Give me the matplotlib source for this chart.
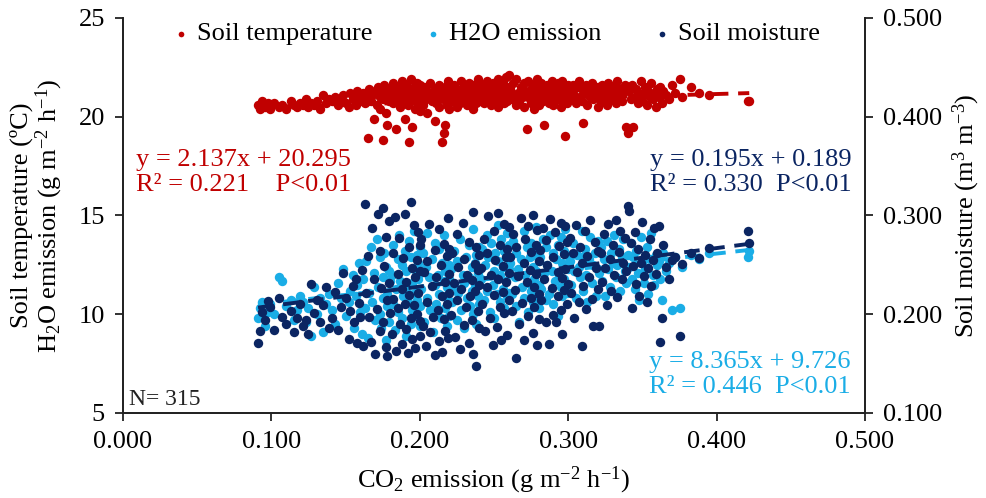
"""CO2 emission vs soil temperature, H2O emission and soil moisture."""

import numpy as np
import matplotlib
matplotlib.use('Agg')
import matplotlib.pyplot as plt

plt.rcParams['font.family'] = ['Liberation Serif', 'DejaVu Serif']
plt.rcParams['mathtext.fontset'] = 'custom'
plt.rcParams['mathtext.rm'] = 'Liberation Serif'
plt.rcParams['mathtext.it'] = 'Liberation Serif:italic'

# CO2 emission (g m-2 h-1), shared by all three series
co2 = [
    0.091, 0.092, 0.094, 0.096, 0.098, 0.099,
    0.102, 0.105, 0.107, 0.110, 0.113, 0.115, 0.117, 0.119,
    0.121, 0.123, 0.125, 0.127, 0.129, 0.131, 0.133, 0.135, 0.137, 0.139,
    0.141, 0.143, 0.145, 0.147, 0.148, 0.150, 0.152, 0.153, 0.155, 0.156, 0.157, 0.158, 0.159, 0.160,
    0.161, 0.162, 0.163, 0.164, 0.165, 0.166, 0.167, 0.168, 0.169, 0.170, 0.171, 0.172, 0.173, 0.173,
    0.174, 0.175, 0.175, 0.176, 0.177, 0.177, 0.178, 0.178, 0.179, 0.179, 0.180,
    0.181, 0.182, 0.182, 0.183, 0.184, 0.185, 0.185, 0.186, 0.187, 0.188, 0.188, 0.189, 0.190, 0.190,
    0.191, 0.191, 0.192, 0.193, 0.193, 0.194, 0.194, 0.195, 0.195, 0.196, 0.196, 0.197, 0.197, 0.198,
    0.198, 0.199, 0.199, 0.200, 0.200, 0.200, 0.200,
    0.201, 0.202, 0.203, 0.204, 0.205, 0.205, 0.206, 0.207, 0.208, 0.209, 0.210, 0.210, 0.211, 0.212,
    0.213, 0.213, 0.214, 0.215, 0.215, 0.216, 0.216, 0.217, 0.217, 0.218, 0.218, 0.219, 0.219, 0.220,
    0.220, 0.220,
    0.221, 0.222, 0.223, 0.224, 0.225, 0.225, 0.226, 0.227, 0.228, 0.229, 0.230, 0.230, 0.231, 0.232,
    0.233, 0.233, 0.234, 0.235, 0.235, 0.236, 0.236, 0.237, 0.237, 0.238, 0.238, 0.239, 0.239, 0.240,
    0.240, 0.240,
    0.241, 0.242, 0.243, 0.244, 0.245, 0.245, 0.246, 0.247, 0.248, 0.249, 0.250, 0.250, 0.251, 0.252,
    0.253, 0.253, 0.254, 0.254, 0.255, 0.256, 0.256, 0.257, 0.257, 0.258, 0.258, 0.259, 0.259, 0.260,
    0.260, 0.260,
    0.261, 0.262, 0.263, 0.264, 0.265, 0.265, 0.266, 0.267, 0.268, 0.269, 0.270, 0.270, 0.271, 0.272,
    0.273, 0.273, 0.274, 0.275, 0.275, 0.276, 0.276, 0.277, 0.277, 0.278, 0.278, 0.279, 0.279, 0.280,
    0.280, 0.280,
    0.281, 0.282, 0.283, 0.284, 0.285, 0.285, 0.286, 0.287, 0.288, 0.289, 0.290, 0.290, 0.291, 0.292,
    0.293, 0.293, 0.294, 0.295, 0.295, 0.296, 0.296, 0.297, 0.297, 0.298, 0.298, 0.299, 0.299, 0.300,
    0.301, 0.302, 0.303, 0.304, 0.305, 0.306, 0.307, 0.308, 0.309, 0.309, 0.310, 0.311, 0.312, 0.313,
    0.314, 0.315, 0.316, 0.317, 0.318, 0.319, 0.320, 0.320,
    0.321, 0.322, 0.323, 0.324, 0.325, 0.326, 0.327, 0.328, 0.329, 0.330, 0.331, 0.332, 0.333, 0.334,
    0.335, 0.336, 0.337, 0.338, 0.339, 0.340,
    0.341, 0.342, 0.343, 0.344, 0.345, 0.346, 0.347, 0.348, 0.349, 0.350, 0.351, 0.352, 0.353, 0.354,
    0.355, 0.356, 0.357, 0.358, 0.359, 0.360,
    0.361, 0.362, 0.363, 0.364, 0.366, 0.368, 0.370, 0.372, 0.375, 0.377,
    0.383, 0.388, 0.395, 0.421, 0.422,
]

# soil temperature (ºC)
soil_temp = [
    20.6, 20.4, 20.8, 20.5, 20.7, 20.4,
    20.7, 20.5, 20.6, 20.4, 20.8, 20.6, 20.5, 20.7,
    20.6, 20.9, 20.5, 20.7, 20.6, 20.8, 20.4, 21.1, 20.7, 20.9,
    20.8, 21.0, 20.6, 20.9, 21.1, 20.7, 20.5, 21.2, 20.9, 21.0, 20.6, 21.3, 20.8, 21.0,
    20.9, 21.2, 20.7, 21.0, 18.9, 21.4, 20.8, 21.1, 19.9, 21.3, 20.6, 21.5, 21.0, 20.4,
    21.2, 18.8, 20.9, 21.6, 21.1, 20.2, 21.3, 19.6, 20.8, 21.4, 21.0,
    21.3, 20.7, 21.7, 21.0, 19.4, 21.5, 20.9, 21.2, 20.5, 21.8, 21.1, 20.8, 21.4, 19.9,
    21.0, 21.6, 20.6, 21.3, 18.7, 21.9, 20.8, 21.2, 19.5, 21.5, 20.9, 21.1, 20.4, 21.7,
    21.0, 20.7, 21.4, 21.2, 20.3, 21.6, 20.9,
    21.1, 20.6, 21.5, 20.9, 21.3, 20.2, 21.0, 21.7, 20.8, 21.2, 19.8, 21.4, 20.7, 21.1,
    21.6, 20.5, 21.0, 18.7, 21.3, 19.2, 20.9, 21.5, 19.6, 21.2, 20.6, 21.8, 21.0, 20.8,
    21.4, 20.4,
    21.2, 20.8, 21.6, 21.0, 20.5, 21.4, 21.1, 20.7, 21.8, 21.3, 20.9, 21.5, 21.0, 20.6,
    21.7, 21.2, 20.8, 21.4, 21.0, 20.4, 21.6, 21.1, 20.9, 21.3, 20.7, 21.9, 21.0, 20.8,
    21.5, 21.2,
    21.0, 21.6, 20.7, 21.3, 21.8, 20.9, 21.4, 21.1, 20.6, 21.7, 21.2, 20.8, 21.5, 21.0,
    21.9, 20.5, 21.3, 21.6, 20.9, 21.1, 21.8, 20.7, 21.4, 22.0, 21.2, 20.8, 21.5, 22.1,
    21.0, 21.3,
    21.4, 20.9, 21.7, 21.1, 20.6, 21.9, 21.2, 20.8, 21.5, 21.0, 21.7, 20.5, 21.3, 19.4,
    21.1, 21.8, 20.9, 21.4, 20.7, 21.6, 21.2, 20.4, 21.0, 21.5, 20.8, 21.3, 21.9, 21.1,
    20.6, 21.4,
    21.2, 21.7, 20.8, 19.6, 21.4, 21.0, 21.6, 20.7, 21.3, 21.8, 21.0, 20.6, 21.5, 21.2,
    20.9, 21.7, 21.1, 20.5, 21.4, 21.0, 21.8, 20.8, 21.3, 19.0, 21.5, 21.1, 20.7, 21.6,
    21.3, 20.9, 21.6, 21.1, 20.7, 21.5, 21.8, 21.0, 20.8, 21.4, 19.7, 21.2, 21.6, 20.6,
    21.3, 21.0, 21.7, 20.9, 21.4, 21.1, 20.5, 21.5,
    21.2, 20.8, 21.6, 21.0, 21.4, 20.6, 21.7, 21.1, 20.9, 21.5, 21.3, 20.7, 21.8, 21.0,
    21.4, 20.8, 21.2, 21.6, 19.5, 19.2,
    21.3, 20.9, 21.6, 19.5, 21.0, 21.4, 20.7, 21.2, 21.8, 20.8, 21.1, 21.5, 20.6, 21.3,
    21.0, 21.7, 20.9, 21.2, 20.5, 21.4,
    21.0, 21.5, 20.7, 21.3, 21.1, 20.9, 21.6, 21.2, 21.9, 21.0,
    21.5, 21.2, 21.1, 20.8, 20.8,
]

# H2O emission (g m-2 h-1)
h2o = [
    9.8, 10.3, 10.6, 9.4, 10.1, 10.5,
    10.0, 11.9, 11.7, 10.4, 10.7, 9.7, 10.2, 10.9,
    10.6, 9.6, 10.3, 8.9, 11.4, 10.0, 10.8, 9.1, 10.5, 11.0,
    10.2, 9.5, 11.6, 10.8, 12.3, 9.9, 10.6, 11.2, 12.0, 9.3, 10.9, 11.5, 12.6, 10.1,
    9.0, 11.8, 10.3, 12.7, 8.8, 11.1, 13.4, 10.6, 12.1, 9.7, 13.8, 11.4, 10.0, 12.9,
    9.3, 11.9, 10.8, 13.1, 12.4, 8.7, 11.0, 10.4, 12.2, 9.6, 11.7,
    12.0, 10.5, 13.5, 9.2, 11.3, 12.8, 10.1, 14.0, 11.7, 9.8, 12.5, 10.9, 13.2, 11.4,
    8.9, 12.2, 10.6, 13.7, 11.0, 9.5, 12.9, 11.6, 10.2, 14.2, 12.3, 9.9, 11.1, 13.0,
    10.7, 12.6, 11.8, 9.4, 13.4, 10.4, 12.1,
    11.3, 13.1, 9.6, 12.4, 10.8, 14.1, 11.9, 10.2, 12.8, 9.1, 11.5, 13.6, 10.5, 12.0,
    11.0, 13.3, 9.8, 12.6, 10.9, 11.7, 14.0, 10.3, 12.2, 9.4, 11.4, 13.0, 10.7, 12.5,
    11.8, 9.9,
    12.3, 10.6, 13.2, 11.4, 9.7, 12.7, 11.1, 13.8, 10.2, 12.0, 11.6, 9.3, 12.9, 10.8,
    13.5, 11.9, 10.4, 12.4, 11.2, 14.3, 10.0, 12.6, 11.5, 9.5, 13.0, 12.1, 10.9, 11.7,
    13.4, 10.5,
    11.8, 13.3, 10.7, 12.5, 14.0, 11.2, 12.9, 10.1, 13.6, 11.5, 12.2, 9.8, 13.1, 11.0,
    12.7, 14.5, 10.6, 12.0, 13.8, 11.3, 12.4, 10.3, 13.2, 11.7, 12.9, 10.9, 14.1, 12.3,
    11.1, 13.5,
    12.6, 11.0, 13.7, 11.9, 10.4, 13.1, 12.3, 9.6, 12.8, 11.4, 14.2, 10.8, 12.0, 13.4,
    11.6, 10.1, 12.9, 11.2, 13.6, 12.4, 10.6, 13.0, 11.8, 14.4, 12.2, 10.9, 13.3, 11.5,
    12.7, 10.3,
    12.9, 11.3, 13.8, 12.1, 10.7, 13.4, 12.5, 11.0, 14.0, 12.2, 10.5, 13.1, 11.7, 12.8,
    9.9, 13.5, 12.0, 11.4, 13.9, 12.6, 10.9, 13.2, 11.8, 12.4, 14.3, 11.1, 13.0, 12.3,
    12.7, 11.5, 13.6, 12.2, 10.8, 13.0, 12.4, 11.9, 14.2, 12.9, 11.2, 13.3, 12.0, 10.6,
    12.8, 13.9, 11.6, 12.5, 13.1, 10.9, 12.3, 13.7,
    12.1, 13.4, 11.7, 12.8, 10.9, 13.7, 12.3, 11.4, 13.1, 12.6, 14.0, 11.9, 12.5, 13.3,
    11.2, 12.9, 13.8, 12.2, 11.6, 13.0,
    12.4, 13.6, 11.8, 12.9, 11.3, 13.2, 12.1, 10.7, 13.9, 12.6, 11.6, 12.3, 13.4, 11.0,
    12.8, 14.1, 12.0, 11.5, 13.0, 12.5,
    12.7, 11.8, 10.7, 13.1, 12.2, 12.6, 10.2, 12.9, 10.3, 12.4,
    13.0, 12.8, 13.1, 12.9, 13.2,
]

# soil moisture (m3 m-3)
soil_moist = [
    0.171, 0.183, 0.202, 0.194, 0.213, 0.207,
    0.184, 0.216, 0.197, 0.190, 0.203, 0.182, 0.196, 0.210,
    0.188, 0.194, 0.180, 0.231, 0.201, 0.214, 0.192, 0.209, 0.228, 0.186,
    0.196, 0.223, 0.184, 0.207, 0.242, 0.216, 0.175, 0.203, 0.229, 0.192, 0.236, 0.171, 0.211, 0.197,
    0.245, 0.168, 0.312, 0.221, 0.259, 0.197, 0.172, 0.287, 0.236, 0.160, 0.205, 0.301, 0.183, 0.264,
    0.227, 0.308, 0.192, 0.249, 0.167, 0.278, 0.214, 0.158, 0.232, 0.294, 0.201,
    0.180, 0.262, 0.215, 0.298, 0.163, 0.241, 0.206, 0.277, 0.190, 0.226, 0.170, 0.257, 0.210, 0.302,
    0.185, 0.233, 0.161, 0.268, 0.219, 0.314, 0.196, 0.247, 0.175, 0.290, 0.209, 0.238, 0.166, 0.255,
    0.200, 0.283, 0.222, 0.178, 0.270, 0.193, 0.244,
    0.276, 0.188, 0.243, 0.168, 0.254, 0.212, 0.291, 0.182, 0.229, 0.197, 0.265, 0.159, 0.238, 0.204,
    0.286, 0.173, 0.250, 0.218, 0.162, 0.271, 0.195, 0.233, 0.183, 0.259, 0.210, 0.297, 0.176, 0.241,
    0.221, 0.266,
    0.199, 0.262, 0.232, 0.177, 0.281, 0.214, 0.248, 0.165, 0.226, 0.292, 0.189, 0.256, 0.207, 0.240,
    0.171, 0.273, 0.218, 0.235, 0.194, 0.304, 0.160, 0.251, 0.224, 0.148, 0.268, 0.203, 0.245, 0.230,
    0.186, 0.260,
    0.247, 0.210, 0.276, 0.183, 0.262, 0.228, 0.299, 0.196, 0.240, 0.169, 0.284, 0.219, 0.255, 0.187,
    0.303, 0.236, 0.207, 0.270, 0.174, 0.249, 0.223, 0.291, 0.201, 0.258, 0.233, 0.179, 0.266, 0.214,
    0.288, 0.242,
    0.258, 0.203, 0.281, 0.225, 0.156, 0.268, 0.239, 0.190, 0.297, 0.211, 0.252, 0.174, 0.276, 0.233,
    0.198, 0.289, 0.245, 0.216, 0.263, 0.181, 0.300, 0.228, 0.207, 0.270, 0.241, 0.169, 0.285, 0.220,
    0.254, 0.195,
    0.265, 0.214, 0.287, 0.236, 0.192, 0.275, 0.250, 0.170, 0.296, 0.227, 0.258, 0.199, 0.283, 0.192,
    0.243, 0.218, 0.269, 0.204, 0.292, 0.237, 0.180, 0.261, 0.225, 0.289, 0.246, 0.210, 0.273, 0.231,
    0.277, 0.221, 0.262, 0.196, 0.290, 0.243, 0.212, 0.268, 0.168, 0.252, 0.229, 0.284, 0.205, 0.259,
    0.238, 0.295, 0.215, 0.188, 0.273, 0.247, 0.226, 0.264,
    0.188, 0.262, 0.233, 0.281, 0.247, 0.209, 0.291, 0.256, 0.224, 0.270, 0.240, 0.295, 0.217, 0.263,
    0.284, 0.236, 0.252, 0.277, 0.244, 0.310,
    0.305, 0.272, 0.206, 0.249, 0.283, 0.231, 0.266, 0.218, 0.252, 0.293, 0.239, 0.260, 0.212, 0.247,
    0.276, 0.229, 0.255, 0.287, 0.241, 0.262,
    0.289, 0.172, 0.196, 0.270, 0.248, 0.236, 0.255, 0.258, 0.178, 0.251,
    0.262, 0.257, 0.267, 0.284, 0.272,
]

# fitted lines as printed on the chart: (slope, intercept)
fit_temp = (2.137, 20.295)
fit_h2o = (8.365, 9.726)
fit_moist = (0.195, 0.189)

red = '#C00000'
cyan = '#1AADE6'
navy = '#0B2562'

x = np.array(co2)
xl = np.array([x.min(), x.max()])

fig = plt.figure(figsize=(9.87, 4.98), dpi=100)
ax = fig.add_axes([0.1246, 0.1707, 0.7518, 0.7932])
ax2 = ax.twinx()

ms = 46
s1 = ax.scatter(x, soil_temp, s=ms, color=red, linewidths=0, label='Soil temperature')
s2 = ax.scatter(x, h2o, s=ms, color=cyan, linewidths=0, label='H2O emission')
s3 = ax2.scatter(x, soil_moist, s=ms, color=navy, linewidths=0, label='Soil moisture')

dash = (0, (4, 2.5))
ax.plot(xl, fit_temp[0]*xl + fit_temp[1], color=red, lw=2.8, ls=dash, zorder=3)
ax.plot(xl, fit_h2o[0]*xl + fit_h2o[1], color=cyan, lw=2.8, ls=dash, zorder=3)
ax2.plot(xl, fit_moist[0]*xl + fit_moist[1], color=navy, lw=2.8, ls=dash, zorder=3)

ax.set_xlim(0, 0.5)
ax.set_ylim(5, 25)
ax2.set_ylim(0.1, 0.5)
ax.set_xticks(np.arange(0, 0.51, 0.1))
ax.set_xticklabels(['%.3f' % v for v in np.arange(0, 0.51, 0.1)])
ax.set_yticks([5, 10, 15, 20, 25])
ax2.set_yticks(np.arange(0.1, 0.51, 0.1))
ax2.set_yticklabels(['%.3f' % v for v in np.arange(0.1, 0.51, 0.1)])

fs = 19
for a in (ax, ax2):
    a.spines['top'].set_visible(False)
    for sp in a.spines.values():
        sp.set_linewidth(1.3)
        sp.set_color('#222222')
    a.tick_params(direction='out', length=6, width=1.3, labelsize=fs, pad=7, color='#222222')

ax.set_xlabel('CO$_2$ emission (g m$^{-2}$ h$^{-1}$)', fontsize=fs, labelpad=8)
ax.set_ylabel('Soil temperature (ºC)\nH$_2$O emission (g m$^{-2}$ h$^{-1}$)', fontsize=fs,
              labelpad=10, linespacing=1.0)
ax2.set_ylabel('Soil moisture (m$^3$ m$^{-3}$)', fontsize=fs, labelpad=6)

ax.text(0.009, 17.8, 'y = 2.137x + 20.295', color=red, fontsize=fs, va='center')
ax.text(0.009, 16.55, 'R² = 0.221    P<0.01', color=red, fontsize=fs, va='center')
ax.text(0.491, 17.8, 'y = 0.195x + 0.189', color=navy, fontsize=fs, va='center', ha='right')
ax.text(0.491, 16.55, 'R² = 0.330  P<0.01', color=navy, fontsize=fs, va='center', ha='right')
ax.text(0.490, 7.58, 'y = 8.365x + 9.726', color=cyan, fontsize=fs, va='center', ha='right')
ax.text(0.490, 6.32, 'R² = 0.446  P<0.01', color=cyan, fontsize=fs, va='center', ha='right')
ax.text(0.004, 5.7, 'N= 315', color='#222222', fontsize=17, va='center')

ax2.legend(handles=[s1, s2, s3], loc='upper center', bbox_to_anchor=(0.5, 1.05), ncol=3,
           frameon=False, fontsize=fs, markerscale=0.6, handletextpad=0.1,
           columnspacing=1.8, handlelength=1.0)

plt.savefig('out.png', dpi=100)
